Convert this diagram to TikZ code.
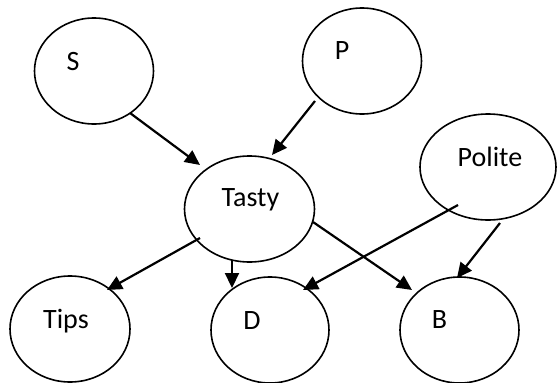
\documentclass[tikz,border=0pt]{standalone}
\usepackage{fontspec}
\setmainfont{Carlito}
\usetikzlibrary{shapes.geometric,arrows.meta,calc}

\tikzset{
  var/.style={draw=black, line width=1.6pt, ellipse, inner sep=0pt,
              minimum width=#1, minimum height=106pt},
  var/.default=119pt,
  txt/.style={font=\fontsize{28}{33}\selectfont, inner sep=0pt, anchor=center},
  link/.style={line width=2.2pt, -{Triangle[length=15pt,width=14pt]}}
}

\begin{document}
\begin{tikzpicture}[x=1pt, y=-1pt]
  \useasboundingbox (0,0) rectangle (558,383);

  % variables of the network
  \node[var]        (S)      at (94,71)   {};
  \node[var]        (P)      at (362,61)  {};
  \node[var=136pt]  (Polite) at (488,167) {};
  \node[var=130pt]  (Tasty)  at (249.5,209) {};
  \node[var=120pt]  (Tips)   at (70,329)  {};
  \node[var=118pt]  (D)      at (270,330) {};
  \node[var=119pt]  (B)      at (459.5,330) {};

  % their names, set a little above and left of centre
  \node[txt] (S-t)      at ($(S)+(-21,-9)$)      {S};
  \node[txt] (P-t)      at ($(P)+(-20,-10)$)     {P};
  \node[txt] (Polite-t) at ($(Polite)+(2,-10)$)  {Polite};
  \node[txt] (Tasty-t)  at ($(Tasty)+(1,-9)$)    {Tasty};
  \node[txt] (Tips-t)   at ($(Tips)+(-4,-8)$)    {Tips};
  \node[txt] (D-t)      at ($(D)+(-18,-9)$)      {D};
  \node[txt] (B-t)      at ($(B)+(-20,-10)$)     {B};

  % dependencies
  \draw[link] ($(S)+(36,42)$)        -- ($(Tasty)+(-49.5,-44)$);
  \draw[link] ($(P)+(-47,40)$)       -- ($(Tasty)+(22.5,-54)$);
  \draw[link] ($(Tasty)+(-49.5,29)$) -- ($(Tips)+(37,-39)$);
  \draw[link] ($(Tasty)+(-17.5,51)$) -- ($(D)+(-38,-42)$);
  \draw[link] ($(Tasty)+(63.5,13)$)  -- ($(B)+(-47.5,-40)$);
  \draw[link] ($(Polite)+(-30,38)$)  -- ($(D)+(33,-40)$);
  \draw[link] ($(Polite)+(12,56)$)   -- ($(B)+(-2.5,-52)$);
\end{tikzpicture}
\end{document}
